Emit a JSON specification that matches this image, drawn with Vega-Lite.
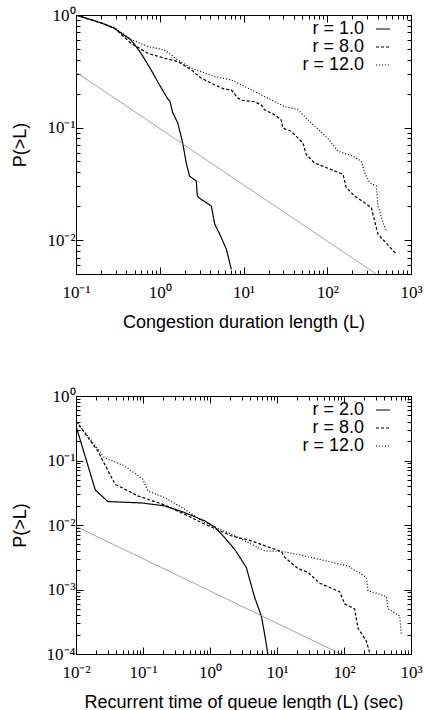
{
  "$schema": "https://vega.github.io/schema/vega-lite/v6.json",
  "background": "white",
  "padding": {"left": 10, "top": 5, "right": 5, "bottom": 5},
  "spacing": 54,
  "datasets": {
    "top": [
      {"x": 0.1, "p": 1, "series": "r = 1.0"},
      {"x": 0.2, "p": 0.85, "series": "r = 1.0"},
      {"x": 0.287, "p": 0.762, "series": "r = 1.0"},
      {"x": 0.454, "p": 0.6, "series": "r = 1.0"},
      {"x": 0.598, "p": 0.457, "series": "r = 1.0"},
      {"x": 0.787, "p": 0.326, "series": "r = 1.0"},
      {"x": 0.99, "p": 0.24, "series": "r = 1.0"},
      {"x": 1.25, "p": 0.179, "series": "r = 1.0"},
      {"x": 1.32, "p": 0.172, "series": "r = 1.0"},
      {"x": 1.43, "p": 0.135, "series": "r = 1.0"},
      {"x": 1.64, "p": 0.11, "series": "r = 1.0"},
      {"x": 1.8, "p": 0.0835, "series": "r = 1.0"},
      {"x": 1.9, "p": 0.07, "series": "r = 1.0"},
      {"x": 2.07, "p": 0.0485, "series": "r = 1.0"},
      {"x": 2.27, "p": 0.037, "series": "r = 1.0"},
      {"x": 2.73, "p": 0.0335, "series": "r = 1.0"},
      {"x": 2.81, "p": 0.0247, "series": "r = 1.0"},
      {"x": 3.0, "p": 0.0235, "series": "r = 1.0"},
      {"x": 4.13, "p": 0.0201, "series": "r = 1.0"},
      {"x": 4.53, "p": 0.0139, "series": "r = 1.0"},
      {"x": 5.2, "p": 0.0113, "series": "r = 1.0"},
      {"x": 6.24, "p": 0.0083, "series": "r = 1.0"},
      {"x": 7.16, "p": 0.0055, "series": "r = 1.0"},
      {"x": 0.1, "p": 1, "series": "r = 8.0"},
      {"x": 0.2, "p": 0.85, "series": "r = 8.0"},
      {"x": 0.287, "p": 0.765, "series": "r = 8.0"},
      {"x": 0.454, "p": 0.561, "series": "r = 8.0"},
      {"x": 0.72, "p": 0.457, "series": "r = 8.0"},
      {"x": 1.14, "p": 0.413, "series": "r = 8.0"},
      {"x": 1.64, "p": 0.386, "series": "r = 8.0"},
      {"x": 2.37, "p": 0.326, "series": "r = 8.0"},
      {"x": 3.12, "p": 0.275, "series": "r = 8.0"},
      {"x": 4.5, "p": 0.24, "series": "r = 8.0"},
      {"x": 5.93, "p": 0.219, "series": "r = 8.0"},
      {"x": 7.13, "p": 0.216, "series": "r = 8.0"},
      {"x": 8.56, "p": 0.183, "series": "r = 8.0"},
      {"x": 9.8, "p": 0.174, "series": "r = 8.0"},
      {"x": 13.5, "p": 0.17, "series": "r = 8.0"},
      {"x": 16.3, "p": 0.159, "series": "r = 8.0"},
      {"x": 17.8, "p": 0.144, "series": "r = 8.0"},
      {"x": 23.5, "p": 0.13, "series": "r = 8.0"},
      {"x": 28.2, "p": 0.117, "series": "r = 8.0"},
      {"x": 29.5, "p": 0.099, "series": "r = 8.0"},
      {"x": 37.2, "p": 0.0925, "series": "r = 8.0"},
      {"x": 44.6, "p": 0.0807, "series": "r = 8.0"},
      {"x": 51.2, "p": 0.073, "series": "r = 8.0"},
      {"x": 56.1, "p": 0.0574, "series": "r = 8.0"},
      {"x": 70.6, "p": 0.0485, "series": "r = 8.0"},
      {"x": 98, "p": 0.044, "series": "r = 8.0"},
      {"x": 154, "p": 0.0384, "series": "r = 8.0"},
      {"x": 169, "p": 0.0292, "series": "r = 8.0"},
      {"x": 212, "p": 0.0247, "series": "r = 8.0"},
      {"x": 336, "p": 0.0195, "series": "r = 8.0"},
      {"x": 368, "p": 0.0148, "series": "r = 8.0"},
      {"x": 403, "p": 0.0113, "series": "r = 8.0"},
      {"x": 668, "p": 0.0075, "series": "r = 8.0"},
      {"x": 0.1, "p": 1, "series": "r = 12.0"},
      {"x": 0.2, "p": 0.85, "series": "r = 12.0"},
      {"x": 0.287, "p": 0.77, "series": "r = 12.0"},
      {"x": 0.454, "p": 0.608, "series": "r = 12.0"},
      {"x": 0.72, "p": 0.524, "series": "r = 12.0"},
      {"x": 1.14, "p": 0.49, "series": "r = 12.0"},
      {"x": 1.64, "p": 0.399, "series": "r = 12.0"},
      {"x": 2.37, "p": 0.337, "series": "r = 12.0"},
      {"x": 4.5, "p": 0.284, "series": "r = 12.0"},
      {"x": 7.13, "p": 0.265, "series": "r = 12.0"},
      {"x": 11.3, "p": 0.224, "series": "r = 12.0"},
      {"x": 17.8, "p": 0.189, "series": "r = 12.0"},
      {"x": 23.5, "p": 0.17, "series": "r = 12.0"},
      {"x": 30.9, "p": 0.154, "series": "r = 12.0"},
      {"x": 44.6, "p": 0.144, "series": "r = 12.0"},
      {"x": 51.2, "p": 0.13, "series": "r = 12.0"},
      {"x": 64.4, "p": 0.11, "series": "r = 12.0"},
      {"x": 102, "p": 0.08, "series": "r = 12.0"},
      {"x": 134, "p": 0.0617, "series": "r = 12.0"},
      {"x": 203, "p": 0.0557, "series": "r = 12.0"},
      {"x": 255, "p": 0.0503, "series": "r = 12.0"},
      {"x": 280, "p": 0.0397, "series": "r = 12.0"},
      {"x": 321, "p": 0.0324, "series": "r = 12.0"},
      {"x": 386, "p": 0.0303, "series": "r = 12.0"},
      {"x": 403, "p": 0.0201, "series": "r = 12.0"},
      {"x": 463, "p": 0.0143, "series": "r = 12.0"},
      {"x": 507, "p": 0.0121, "series": "r = 12.0"}
    ],
    "topref": [
      {"x": 0.1, "p": 0.31},
      {"x": 384, "p": 0.005}
    ],
    "bot": [
      {"x": 0.01, "p": 0.343, "series": "r = 2.0"},
      {"x": 0.0194, "p": 0.035, "series": "r = 2.0"},
      {"x": 0.0298, "p": 0.0231, "series": "r = 2.0"},
      {"x": 0.0938, "p": 0.022, "series": "r = 2.0"},
      {"x": 0.209, "p": 0.0198, "series": "r = 2.0"},
      {"x": 0.417, "p": 0.0156, "series": "r = 2.0"},
      {"x": 0.83, "p": 0.0116, "series": "r = 2.0"},
      {"x": 1.17, "p": 0.00937, "series": "r = 2.0"},
      {"x": 1.65, "p": 0.0064, "series": "r = 2.0"},
      {"x": 2.33, "p": 0.0042, "series": "r = 2.0"},
      {"x": 2.62, "p": 0.0035, "series": "r = 2.0"},
      {"x": 3.48, "p": 0.0022, "series": "r = 2.0"},
      {"x": 4.65, "p": 0.00075, "series": "r = 2.0"},
      {"x": 5.83, "p": 0.00039, "series": "r = 2.0"},
      {"x": 6.56, "p": 0.0002, "series": "r = 2.0"},
      {"x": 7.3, "p": 0.0001, "series": "r = 2.0"},
      {"x": 0.01, "p": 0.41, "series": "r = 8.0"},
      {"x": 0.0211, "p": 0.141, "series": "r = 8.0"},
      {"x": 0.0383, "p": 0.0429, "series": "r = 8.0"},
      {"x": 0.0836, "p": 0.0283, "series": "r = 8.0"},
      {"x": 0.209, "p": 0.0205, "series": "r = 8.0"},
      {"x": 0.417, "p": 0.0147, "series": "r = 8.0"},
      {"x": 0.83, "p": 0.0103, "series": "r = 8.0"},
      {"x": 2.08, "p": 0.0068, "series": "r = 8.0"},
      {"x": 4.14, "p": 0.00569, "series": "r = 8.0"},
      {"x": 8.24, "p": 0.00438, "series": "r = 8.0"},
      {"x": 11.6, "p": 0.0039, "series": "r = 8.0"},
      {"x": 13.1, "p": 0.00314, "series": "r = 8.0"},
      {"x": 20.7, "p": 0.0021, "series": "r = 8.0"},
      {"x": 29, "p": 0.00185, "series": "r = 8.0"},
      {"x": 43.4, "p": 0.00125, "series": "r = 8.0"},
      {"x": 86.7, "p": 0.00092, "series": "r = 8.0"},
      {"x": 102, "p": 0.0006, "series": "r = 8.0"},
      {"x": 144, "p": 0.0005, "series": "r = 8.0"},
      {"x": 162, "p": 0.00025, "series": "r = 8.0"},
      {"x": 215, "p": 0.00016, "series": "r = 8.0"},
      {"x": 245, "p": 0.0001, "series": "r = 8.0"},
      {"x": 0.01, "p": 0.41, "series": "r = 12.0"},
      {"x": 0.0265, "p": 0.111, "series": "r = 12.0"},
      {"x": 0.0529, "p": 0.0824, "series": "r = 12.0"},
      {"x": 0.0993, "p": 0.0513, "series": "r = 12.0"},
      {"x": 0.118, "p": 0.0338, "series": "r = 12.0"},
      {"x": 0.209, "p": 0.0267, "series": "r = 12.0"},
      {"x": 0.417, "p": 0.0176, "series": "r = 12.0"},
      {"x": 0.83, "p": 0.0109, "series": "r = 12.0"},
      {"x": 2.08, "p": 0.0072, "series": "r = 12.0"},
      {"x": 4.14, "p": 0.00505, "series": "r = 12.0"},
      {"x": 6.56, "p": 0.00398, "series": "r = 12.0"},
      {"x": 11.6, "p": 0.00389, "series": "r = 12.0"},
      {"x": 20.7, "p": 0.0035, "series": "r = 12.0"},
      {"x": 41.1, "p": 0.00296, "series": "r = 12.0"},
      {"x": 116, "p": 0.0023, "series": "r = 12.0"},
      {"x": 215, "p": 0.00155, "series": "r = 12.0"},
      {"x": 228, "p": 0.00096, "series": "r = 12.0"},
      {"x": 428, "p": 0.00078, "series": "r = 12.0"},
      {"x": 454, "p": 0.0005, "series": "r = 12.0"},
      {"x": 678, "p": 0.00039, "series": "r = 12.0"},
      {"x": 717, "p": 0.0002, "series": "r = 12.0"}
    ],
    "botref": [
      {"x": 0.01, "p": 0.0095},
      {"x": 90, "p": 0.0001}
    ]
  },
  "vconcat": [
    {
      "width": 335,
      "height": 259,
      "layer": [
        {
          "data": {"name": "top"},
          "mark": {"type": "line", "clip": true, "strokeWidth": 1.2, "color": "black"},
          "encoding": {
            "x": {
              "field": "x", "type": "quantitative",
              "scale": {"type": "log", "domain": [0.1, 1000], "nice": false},
              "axis": {
                "orient": "bottom",
                "title": "Congestion duration length (L)",
                "values": [0.1,0.2,0.3,0.4,0.5,0.6,0.7,0.8,0.9,1,2,3,4,5,6,7,8,9,10,20,30,40,50,60,70,80,90,100,200,300,400,500,600,700,800,900,1000],
                "labelExpr": "abs(log(datum.value)/LN10 - round(log(datum.value)/LN10)) < 0.001 ? '10' + (round(log(datum.value)/LN10) < 0 ? '⁻' : '') + ['⁰','¹','²','³','⁴'][abs(round(log(datum.value)/LN10))] : ''",
                "tickSize": {"condition": {"test": "abs(log(datum.value)/LN10 - round(log(datum.value)/LN10)) < 0.001", "value": -7}, "value": -4},
                "labelPadding": 17,
                "titlePadding": 10
              }
            },
            "y": {
              "field": "p", "type": "quantitative",
              "scale": {"type": "log", "domain": [0.005, 1], "nice": false},
              "axis": {
                "orient": "left",
                "title": "P(>L)",
                "values": [0.005,0.006,0.007,0.008,0.009,0.01,0.02,0.03,0.04,0.05,0.06,0.07,0.08,0.09,0.1,0.2,0.3,0.4,0.5,0.6,0.7,0.8,0.9,1],
                "labelExpr": "abs(log(datum.value)/LN10 - round(log(datum.value)/LN10)) < 0.001 ? '10' + (round(log(datum.value)/LN10) < 0 ? '⁻' : '') + ['⁰','¹','²','³','⁴'][abs(round(log(datum.value)/LN10))] : ''",
                "tickSize": {"condition": {"test": "abs(log(datum.value)/LN10 - round(log(datum.value)/LN10)) < 0.001", "value": -7}, "value": -4},
                "labelPadding": 8,
                "titlePadding": 17
              }
            },
            "strokeDash": {
              "field": "series", "type": "nominal",
              "scale": {"domain": ["r = 1.0", "r = 8.0", "r = 12.0"], "range": [[1, 0], [3, 2], [1, 2]]},
              "legend": {
                "title": null,
                "orient": "none",
                "legendX": 298,
                "legendY": 5,
                "padding": 0,
                "rowPadding": 0,
                "labelFont": "Liberation Sans",
                "labelFontSize": 18,
                "labelColor": "black",
                "labelAlign": "right",
                "labelOffset": -28,
                "labelLimit": 200,
                "symbolOffset": 0,
                "symbolType": "stroke",
                "symbolSize": 196,
                "symbolStrokeColor": "black",
                "symbolStrokeWidth": 1.2
              }
            }
          }
        },
        {
          "data": {"name": "topref"},
          "mark": {"type": "line", "clip": true, "strokeWidth": 0.8, "color": "#8c8c8c"},
          "encoding": {
            "x": {
              "field": "x", "type": "quantitative",
              "axis": {
                "orient": "top", "title": null, "labels": false,
                "values": [0.1,0.2,0.3,0.4,0.5,0.6,0.7,0.8,0.9,1,2,3,4,5,6,7,8,9,10,20,30,40,50,60,70,80,90,100,200,300,400,500,600,700,800,900,1000],
                "tickSize": {"condition": {"test": "abs(log(datum.value)/LN10 - round(log(datum.value)/LN10)) < 0.001", "value": -7}, "value": -4}
              }
            },
            "y": {
              "field": "p", "type": "quantitative",
              "axis": {
                "orient": "right", "title": null, "labels": false,
                "values": [0.005,0.006,0.007,0.008,0.009,0.01,0.02,0.03,0.04,0.05,0.06,0.07,0.08,0.09,0.1,0.2,0.3,0.4,0.5,0.6,0.7,0.8,0.9,1],
                "tickSize": {"condition": {"test": "abs(log(datum.value)/LN10 - round(log(datum.value)/LN10)) < 0.001", "value": -7}, "value": -4}
              }
            }
          }
        }
      ],
      "resolve": {"axis": {"x": "independent", "y": "independent"}}
    },
    {
      "width": 335,
      "height": 258,
      "layer": [
        {
          "data": {"name": "bot"},
          "mark": {"type": "line", "clip": true, "strokeWidth": 1.2, "color": "black"},
          "encoding": {
            "x": {
              "field": "x", "type": "quantitative",
              "scale": {"type": "log", "domain": [0.01, 1000], "nice": false},
              "axis": {
                "orient": "bottom",
                "title": "Recurrent time of queue length (L) (sec)",
                "values": [0.01,0.02,0.03,0.04,0.05,0.06,0.07,0.08,0.09,0.1,0.2,0.3,0.4,0.5,0.6,0.7,0.8,0.9,1,2,3,4,5,6,7,8,9,10,20,30,40,50,60,70,80,90,100,200,300,400,500,600,700,800,900,1000],
                "labelExpr": "abs(log(datum.value)/LN10 - round(log(datum.value)/LN10)) < 0.001 ? '10' + (round(log(datum.value)/LN10) < 0 ? '⁻' : '') + ['⁰','¹','²','³','⁴'][abs(round(log(datum.value)/LN10))] : ''",
                "tickSize": {"condition": {"test": "abs(log(datum.value)/LN10 - round(log(datum.value)/LN10)) < 0.001", "value": -7}, "value": -4},
                "labelPadding": 17,
                "titlePadding": 10
              }
            },
            "y": {
              "field": "p", "type": "quantitative",
              "scale": {"type": "log", "domain": [0.0001, 1], "nice": false},
              "axis": {
                "orient": "left",
                "title": "P(>L)",
                "values": [0.0001,0.0002,0.0003,0.0004,0.0005,0.0006,0.0007,0.0008,0.0009,0.001,0.002,0.003,0.004,0.005,0.006,0.007,0.008,0.009,0.01,0.02,0.03,0.04,0.05,0.06,0.07,0.08,0.09,0.1,0.2,0.3,0.4,0.5,0.6,0.7,0.8,0.9,1],
                "labelExpr": "abs(log(datum.value)/LN10 - round(log(datum.value)/LN10)) < 0.001 ? '10' + (round(log(datum.value)/LN10) < 0 ? '⁻' : '') + ['⁰','¹','²','³','⁴'][abs(round(log(datum.value)/LN10))] : ''",
                "tickSize": {"condition": {"test": "abs(log(datum.value)/LN10 - round(log(datum.value)/LN10)) < 0.001", "value": -7}, "value": -4},
                "labelPadding": 8,
                "titlePadding": 17
              }
            },
            "strokeDash": {
              "field": "series", "type": "nominal",
              "scale": {"domain": ["r = 2.0", "r = 8.0", "r = 12.0"], "range": [[1, 0], [3, 2], [1, 2]]},
              "legend": {
                "title": null,
                "orient": "none",
                "legendX": 298,
                "legendY": 5,
                "padding": 0,
                "rowPadding": 0,
                "labelFont": "Liberation Sans",
                "labelFontSize": 18,
                "labelColor": "black",
                "labelAlign": "right",
                "labelOffset": -28,
                "labelLimit": 200,
                "symbolOffset": 0,
                "symbolType": "stroke",
                "symbolSize": 196,
                "symbolStrokeColor": "black",
                "symbolStrokeWidth": 1.2
              }
            }
          }
        },
        {
          "data": {"name": "botref"},
          "mark": {"type": "line", "clip": true, "strokeWidth": 0.8, "color": "#8c8c8c"},
          "encoding": {
            "x": {
              "field": "x", "type": "quantitative",
              "axis": {
                "orient": "top", "title": null, "labels": false,
                "values": [0.01,0.02,0.03,0.04,0.05,0.06,0.07,0.08,0.09,0.1,0.2,0.3,0.4,0.5,0.6,0.7,0.8,0.9,1,2,3,4,5,6,7,8,9,10,20,30,40,50,60,70,80,90,100,200,300,400,500,600,700,800,900,1000],
                "tickSize": {"condition": {"test": "abs(log(datum.value)/LN10 - round(log(datum.value)/LN10)) < 0.001", "value": -7}, "value": -4}
              }
            },
            "y": {
              "field": "p", "type": "quantitative",
              "axis": {
                "orient": "right", "title": null, "labels": false,
                "values": [0.0001,0.0002,0.0003,0.0004,0.0005,0.0006,0.0007,0.0008,0.0009,0.001,0.002,0.003,0.004,0.005,0.006,0.007,0.008,0.009,0.01,0.02,0.03,0.04,0.05,0.06,0.07,0.08,0.09,0.1,0.2,0.3,0.4,0.5,0.6,0.7,0.8,0.9,1],
                "tickSize": {"condition": {"test": "abs(log(datum.value)/LN10 - round(log(datum.value)/LN10)) < 0.001", "value": -7}, "value": -4}
              }
            }
          }
        }
      ],
      "resolve": {"axis": {"x": "independent", "y": "independent"}}
    }
  ],
  "resolve": {
    "scale": {"x": "independent", "y": "independent", "strokeDash": "independent"},
    "legend": {"strokeDash": "independent"}
  },
  "config": {
    "view": {"stroke": "black", "strokeWidth": 1},
    "axis": {
      "grid": false,
      "domainColor": "black",
      "domainWidth": 1,
      "tickColor": "black",
      "tickWidth": 1,
      "labelColor": "black",
      "labelFont": "Liberation Serif",
      "labelFontSize": 17,
      "labelFlush": false,
      "labelOverlap": false,
      "titleColor": "black",
      "titleFont": "Liberation Sans",
      "titleFontSize": 18,
      "titleFontWeight": "normal"
    }
  }
}
